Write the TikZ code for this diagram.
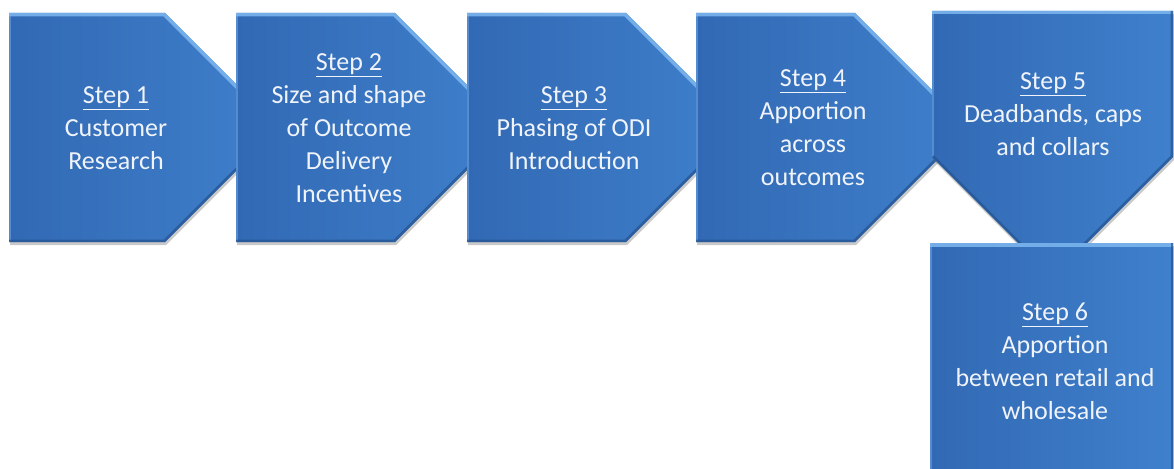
\documentclass[tikz,border=0pt]{standalone}
\usepackage{fontspec}
\setmainfont{Carlito}
\usetikzlibrary{shadows}
\definecolor{boxdark}{HTML}{3269B4}
\definecolor{boxlight}{HTML}{3F80CC}
\definecolor{bevlight}{HTML}{7FB8F0}
\definecolor{bevdark}{HTML}{25538F}
\definecolor{txt}{HTML}{F0F4FA}
\tikzset{
  stepshape/.style={left color=boxdark, right color=boxlight,
    drop shadow={shadow xshift=1pt, shadow yshift=-3pt, opacity=0.35, fill=black!60}},
  bevtop/.style={bevlight, line width=7pt, opacity=0.85, line join=miter},
  bevleft/.style={bevlight, line width=3pt, opacity=0.45},
  bevbot/.style={bevdark, line width=5pt, opacity=0.7, line join=miter},
  steptext/.style={text=txt, align=center, inner sep=0pt, font=\fontsize{26}{33}\selectfont},
}
\newcommand\stepchev[2]{%
  \pgfmathsetmacro\tipx{#2+114.5}%
  \path[stepshape] (#1,13) -- (#2,13) -- (\tipx,127.5) -- (#2,242) -- (#1,242) -- cycle;
  \begin{scope}
    \clip (#1,13) -- (#2,13) -- (\tipx,127.5) -- (#2,242) -- (#1,242) -- cycle;
    \draw[bevleft] (#1,242) -- (#1,13);
    \draw[bevtop] (#1,13) -- (#2,13) -- (\tipx,127.5);
    \draw[bevbot] (\tipx,127.5) -- (#2,242) -- (#1,242);
  \end{scope}}
\begin{document}
\begin{tikzpicture}[x=1pt, y=-1pt]
\clip (0,0) rectangle (1174,468);
\fill[white] (0,0) rectangle (1174,468);
% chevrons 1-4
\stepchev{9}{165}
\node[steptext] (s1) at (116,128) {\underline{Step 1}\\Customer\\Research};
\stepchev{236}{395}
\node[steptext] (s2) at (349,128) {\underline{Step 2}\\Size and shape\\of Outcome\\Delivery\\Incentives};
\stepchev{467}{626}
\node[steptext] (s3) at (574,128) {\underline{Step 3}\\Phasing of ODI\\Introduction};
\stepchev{696}{855}
\node[steptext] (s4) at (813,128) {\underline{Step 4}\\Apportion\\across\\outcomes};
% step 5: down-pointing
\path[stepshape] (932,11) -- (1173,11) -- (1173,157) -- (1052.5,277.5) -- (932,157) -- cycle;
\begin{scope}
  \clip (932,11) -- (1173,11) -- (1173,157) -- (1052.5,277.5) -- (932,157) -- cycle;
  \draw[bevleft] (932,157) -- (932,11);
  \draw[bevtop] (932,11) -- (1173,11);
  \draw[bevbot] (1173,11) -- (1173,157) -- (1052.5,277.5) -- (932,157);
\end{scope}
\node[steptext] (s5) at (1053,114) {\underline{Step 5}\\Deadbands, caps\\and collars};
% step 6
\path[stepshape] (930,243) rectangle (1173,480);
\begin{scope}
  \clip (930,243) rectangle (1173,480);
  \draw[bevleft] (930,480) -- (930,243);
  \draw[bevtop] (930,243) -- (1173,243);
  \draw[bevbot] (1173,243) -- (1173,480);
\end{scope}
\node[steptext] (s6) at (1055,361) {\underline{Step 6}\\Apportion\\between retail and\\wholesale};
\end{tikzpicture}
\end{document}
